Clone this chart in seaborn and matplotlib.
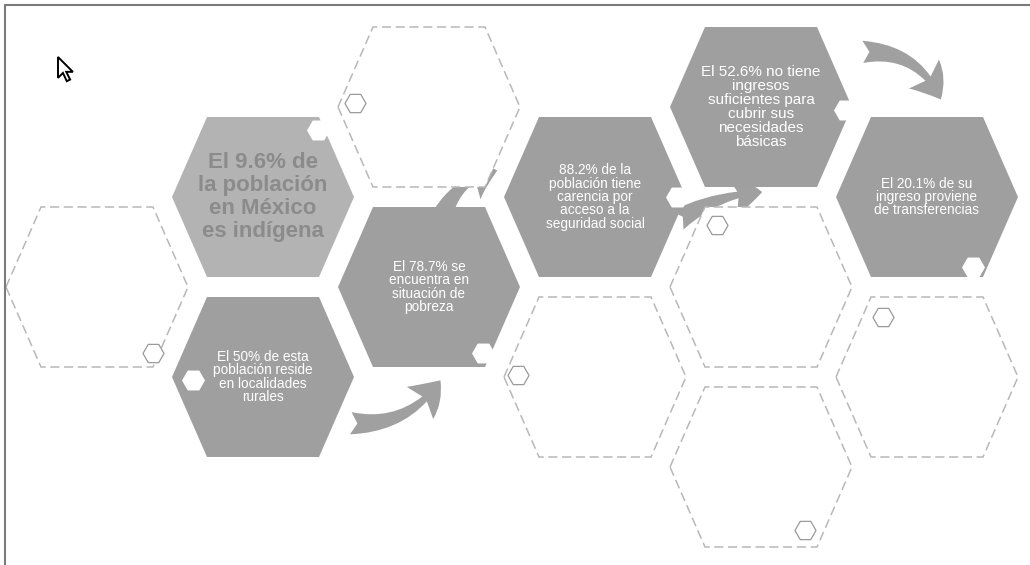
import matplotlib
matplotlib.use("Agg")
import matplotlib.pyplot as plt
import seaborn as sns
import pandas as pd
from matplotlib.patches import Polygon, FancyArrowPatch

# textos de cada hexagono (vacio = hexagono blanco)
hex_col = [0, 1, 1, 2, 2, 3, 3, 4, 4, 4, 5, 5]
hex_row = [2, 1, 3, 0, 2, 1, 3, 0, 2, 4, 1, 3]
hex_text = [
    "",
    "El 9.6% de\nla población\nen México\nes indígena",
    "El 50% de esta\npoblación reside\nen localidades\nrurales",
    "",
    "El 78.7% se\nencuentra en\nsituación de\npobreza",
    "88.2% de la\npoblación tiene\ncarencia por\nacceso a la\nseguridad social",
    "",
    "El 52.6% no tiene\ningresos\nsuficientes para\ncubrir sus\nnecesidades\nbásicas",
    "",
    "",
    "El 20.1% de su\ningreso proviene\nde transferencias",
    "",
]
# pequeño hexagono decorativo de cada celda (desplazamiento respecto al centro)
dot_dx = [56, 55, -70, -74, 54, 82, -77, 84, -44, 44, 46, -44]
dot_dy = [66, -67, 3, -4, 66, 0, -2, 3, -62, 63, 70, -60]

sns.set_theme(style="white")
plt.rcParams["font.family"] = ["Liberation Sans", "DejaVu Sans"]

fig = plt.figure(figsize=(10.3, 5.65), dpi=100)
ax = fig.add_axes([0, 0, 1, 1])

W, A, H = 182, 112, 160
x0, dx, y0, dy = 97, 166, 107, 90

df = pd.DataFrame({"col": hex_col, "row": hex_row, "text": hex_text,
                   "ddx": dot_dx, "ddy": dot_dy})
df["x"] = x0 + dx * df["col"]
df["y"] = y0 + dy * df["row"]
df["filled"] = df["text"] != ""

# flechas grises (detras de los hexagonos)
arrows = [((348, 423), (442, 378), 0.3, 2),
          ((440, 222), (500, 170), -0.3, 0),
          ((675, 222), (765, 192), -0.15, 0),
          ((860, 52), (942, 102), -0.35, 5)]
for (p1, p2, rad, z) in arrows:
    ax.add_patch(FancyArrowPatch(p1, p2, connectionstyle=f"arc3,rad={rad}",
                                 arrowstyle="fancy,head_length=22,head_width=30,tail_width=16",
                                 mutation_scale=1, color="#a0a0a0", lw=0, zorder=z))

for i, r in df.iterrows():
    cx, cy = r["x"], r["y"]
    pts = [(cx - W / 2, cy), (cx - A / 2, cy - H / 2), (cx + A / 2, cy - H / 2),
           (cx + W / 2, cy), (cx + A / 2, cy + H / 2), (cx - A / 2, cy + H / 2)]
    if r["filled"]:
        fc = "#b3b3b3" if r["col"] == 1 and r["row"] == 1 else "#9f9f9f"
        ax.add_patch(Polygon(pts, closed=True, fc=fc, ec="none", zorder=1))
    else:
        ax.add_patch(Polygon(pts, closed=True, fc="white", ec="#b8b8b8",
                             lw=1.1, ls=(0, (6, 3)), zorder=1))

# texto
for i, r in df[df["filled"]].iterrows():
    if r["col"] == 1 and r["row"] == 1:
        ax.text(r["x"], r["y"], r["text"], ha="center", va="center",
                fontsize=16, fontweight="bold", color="#8b8b8b",
                linespacing=1.12, zorder=3)
    elif r["col"] == 4:
        ax.text(r["x"], r["y"], r["text"], ha="center", va="center",
                fontsize=11, color="white", linespacing=1.0, zorder=3)
    else:
        ax.text(r["x"], r["y"], r["text"], ha="center", va="center",
                fontsize=9.8, color="white", linespacing=0.95, zorder=3)

# hexagonos pequeños
df["dot_x"] = df["x"] + df["ddx"]
df["dot_y"] = df["y"] + df["ddy"]
sns.scatterplot(data=df[df["filled"]], x="dot_x", y="dot_y", marker="H", s=230,
                color="white", edgecolor="white", ax=ax, zorder=4, legend=False)
sns.scatterplot(data=df[~df["filled"]], x="dot_x", y="dot_y", marker="H", s=230,
                color="white", edgecolor="#9a9a9a", linewidth=0.9, ax=ax, zorder=4,
                legend=False)
ax.set_xlim(0, 1030)
ax.set_ylim(565, 0)
ax.axis("off")

# marco y cursor
ax.plot([5, 1030], [5, 5], color="#7a7a7a", lw=1.5, zorder=5)
ax.plot([5, 5], [5, 565], color="#7a7a7a", lw=1.5, zorder=5)
cur = [(0, 0), (0, 19), (4.5, 14.5), (8, 22), (11, 20.5), (7.5, 13.5), (13.5, 13.5)]
ax.add_patch(Polygon([(58 + 1.1 * u, 57 + 1.1 * v) for u, v in cur], closed=True,
                     fc="white", ec="black", lw=1.4, zorder=6))

fig.savefig("out.png", dpi=100)
